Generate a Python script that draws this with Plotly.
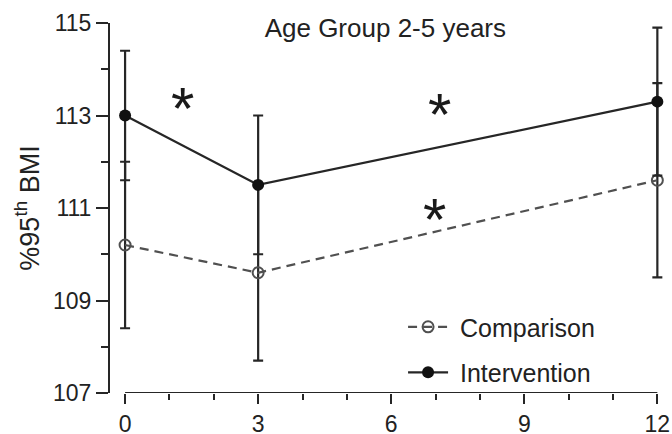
import plotly.graph_objects as go

months = [0, 3, 12]
comparison_mean = [110.2, 109.6, 111.6]
comparison_err = [1.8, 1.9, 2.1]
intervention_mean = [113.0, 111.5, 113.3]
intervention_err = [1.4, 1.5, 1.6]
star_x = [1.3, 7.08, 6.97]
star_y = [113.4, 113.25, 111.0]
x_ticks = [0, 3, 6, 9, 12]
y_ticks = [107, 109, 111, 113, 115]

FONT = "Liberation Sans, Arial, sans-serif"
DARK = "#262626"
GRAY = "#505050"
TXT = "#222222"

fig = go.Figure()
fig.add_trace(go.Scatter(
    x=months, y=comparison_mean, name="\u00a0Comparison", mode="lines+markers",
    line=dict(color=GRAY, width=2.2, dash="9px,6px"),
    marker=dict(symbol="circle-open", size=11, color=GRAY, line=dict(width=2, color=GRAY)),
    error_y=dict(type="data", array=comparison_err, visible=True, color=DARK, thickness=2.2, width=5),
    legendgroup="c",
))
fig.add_trace(go.Scatter(
    x=months, y=intervention_mean, name="\u00a0Intervention", mode="lines+markers",
    line=dict(color=DARK, width=2.2),
    marker=dict(symbol="circle", size=12, color="#111111"),
    error_y=dict(type="data", array=intervention_err, visible=True, color=DARK, thickness=2.2, width=5),
    legendgroup="i",
))

for sx, sy in zip(star_x, star_y):
    fig.add_annotation(x=sx, y=sy, text="*", showarrow=False,
                       font=dict(family=FONT, size=60, color="#1a1a1a"), yshift=-11)

fig.add_shape(type="line", xref="x", yref="y", x0=x_ticks[0], x1=x_ticks[-1], y0=y_ticks[0], y1=y_ticks[0],
              line=dict(color=DARK, width=2))

fig.update_layout(
    width=672, height=434,
    margin=dict(l=110, r=8, t=23, b=41, autoexpand=False),
    paper_bgcolor="white", plot_bgcolor="white",
    font=dict(family=FONT, size=22, color=TXT),
    title=dict(text="Age Group 2-5 years", x=0.497, xref="paper", xanchor="center",
               y=1 - 28 / 434, yref="container", yanchor="middle",
               font=dict(family=FONT, size=26, color=TXT)),
    showlegend=True,
    legend=dict(x=0.529, y=0.2404, xanchor="left", yanchor="top", bgcolor="rgba(0,0,0,0)",
                font=dict(family=FONT, size=25, color=TXT), tracegroupgap=10,
                itemwidth=40),
    xaxis=dict(range=[-0.34, 12.15], tickvals=x_ticks, showline=False, zeroline=False, showgrid=False,
               automargin=False,
               ticks="outside", ticklen=10, tickwidth=2, tickcolor=DARK, ticklabelstandoff=0,
               minor=dict(dtick=1, ticks="outside", ticklen=6, tickwidth=2, tickcolor=DARK, showgrid=False),
               tickfont=dict(family=FONT, size=23, color=TXT)),
    yaxis=dict(range=[107, 115], tickvals=y_ticks, showline=True, linewidth=2, linecolor=DARK,
               zeroline=False, showgrid=False, automargin=False,
               ticks="outside", ticklen=12, tickwidth=2, tickcolor=DARK,
               minor=dict(dtick=1, ticks="outside", ticklen=7, tickwidth=2, tickcolor=DARK, showgrid=False),
               tickfont=dict(family=FONT, size=23, color=TXT),
               title=dict(text="%95<sup>th</sup> BMI", font=dict(family=FONT, size=27, color=TXT),
                          standoff=6)),
)

fig.write_html("out.html")
